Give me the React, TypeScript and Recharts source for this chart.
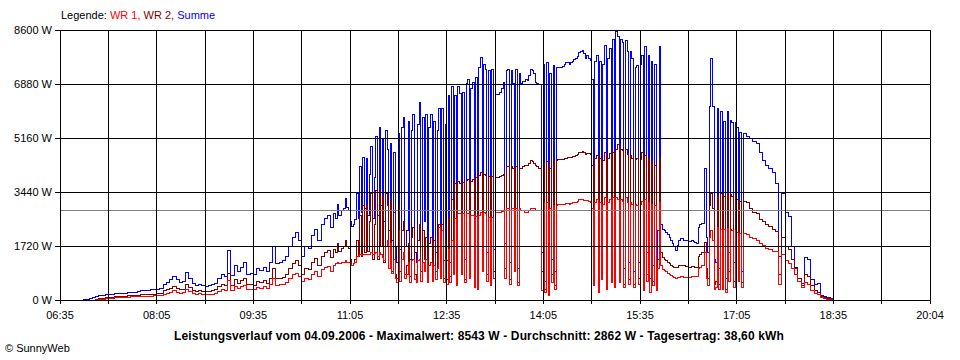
import { LineChart, Line, XAxis, YAxis, ReferenceLine } from "recharts";

// time axis in minutes of day; three sampling segments (3 min, 1.5 min, 3 min)
const segments = [
  { start: 410, step: 3, count: 80 }, // 06:50 - 10:47
  { start: 650, step: 1.5, count: 254 }, // 10:50 - 17:09.5
  { start: 1031, step: 3, count: 33 }, // 17:11 - 18:47
];

const xTicks = [395, 440, 485, 530, 575, 620, 665, 710, 755, 800, 845, 890, 935, 980, 1025, 1070, 1115, 1160, 1205];
const xTickLabels = ["06:35", "", "08:05", "", "09:35", "", "11:05", "", "12:35", "", "14:05", "", "15:35", "", "17:05", "", "18:35", "", "20:04"];
const yTicks = [0, 1720, 3440, 5160, 6880, 8600];
const average = 2862;

// Summe (W)
const summeMorning = [
  null, null, 10, 30, 50, 80, 110, 130, 150, 160, 180, 190, 200, 210, 210, 220, 230, 240, 250, 270,
  290, 300, 310, 320, 330, 340, 360, 480, 560, 640, 760, 640, 560, 600, 880, 700, 520, 470, 500, 450,
  430, 470, 490, 540, 700, 820, 760, 1580, 780, 1100, 900, 1050, 1180, 820, 850, 800, 1000, 950, 1050, 900,
  1200, 1700, 1150, 1200, 1250, 1400, 1700, 2000, 2150, 1900, 1400, 1700, 1650, 2050, 2250, 1900, 2400, 2600, 2700, 2300,
];
const summeMidday = [
  2750, 2600, 3050, 2700, 2700, 2850, 2900, 3220, 2950, 2850, 2500, 2330, 2400, 2550, 3400, 2600, 4240, 2800, 4550, 2900,
  4500, 2700, 4000, 4900, 2600, 3900, 5200, 2700, 5500, 3000, 5160, 2500, 5400, 4800, 2200, 5000, 1900, 4700, 1700, 1200,
  5300, 1600, 5500, 5800, 1700, 2200, 5700, 1300, 5400, 5900, 1500, 1200, 5600, 6300, 1700, 5800, 2500, 5900, 1400, 5500,
  5900, 1300, 5700, 1500, 5400, 6100, 1800, 6100, 1250, 5600, 1270, 6500, 1200, 6790, 2000, 6500, 900, 6800, 6590, 2000,
  6600, 1300, 6910, 7010, 1800, 6750, 6940, 1000, 7100, 900, 7400, 7710, 2200, 7500, 7330, 1500, 7300, 1100, 7330, 1600,
  6530, 6530, 6550, 6600, 6750, 6940, 1800, 7300, 7330, 1200, 7300, 6900, 2200, 7330, 1000, 7200, 6910, 6950, 6950, 7010,
  7000, 7150, 7330, 7300, 7200, 6940, 6900, 6850, 6850, 1500, 7500, 600, 7580, 400, 7200, 1300, 7480, 900, 7400, 7390,
  7400, 7420, 7450, 7500, 7550, 7550, 7500, 7580, 7600, 7650, 7700, 7750, 7870, 7900, 7960, 7850, 7700, 7800, 7700, 7640,
  7010, 1200, 7600, 7800, 700, 7600, 1500, 7500, 8100, 900, 7700, 8000, 1300, 8300, 1000, 8540, 8380, 1300, 8300, 8200,
  1000, 8280, 7900, 1200, 7900, 7700, 900, 7420, 7480, 1200, 7500, 7800, 800, 8060, 1500, 7800, 700, 7600, 1100, 7500,
  1000, 2200, 8090, 2400, 2230, 2200, 2150, 2100, 2000, 1900, 1800, 1700, 1590, 1750, 1900, 1950, 1950, 1900, 1900, 1880,
  1850, 1850, 1880, 1870, 1820, 1800, 2300, 2400, 2450, 2450, 4200, 2000, 1500, 6150, 7700, 6150, 1300, 1200, 6100, 1000,
  6000, 900, 5700, 700, 6000, 1500, 5730, 5640, 1200, 5640, 5500, 1500, 5320, 900,
];
const summeEvening = [
  5300, 5200, 5150, 5050, 5000, 4700, 4450, 4300, 4200, 4050, 3700, 1400, 3400, 2800, 2650, 1690, 1050, 700, 540, 1340,
  1300, 650, 480, 540, 150, 100, 80, 50, 0, null, null, null, null,
];

// WR 2 (W)
const wr2Morning = [
  null, null, null, null, null, null, 20, 40, 60, 70, 80, 90, 100, 110, 110, 120, 130, 130, 140, 150,
  160, 170, 180, 180, 190, 200, 210, 290, 330, 380, 440, 380, 330, 350, 500, 400, 300, 280, 300, 270,
  260, 280, 300, 320, 420, 480, 450, 850, 460, 640, 530, 620, 700, 480, 500, 470, 590, 560, 620, 530,
  700, 1000, 680, 700, 730, 820, 1000, 1170, 1260, 1110, 820, 1000, 970, 1200, 1320, 1110, 1400, 1520, 1580, 1350,
];
const wr2Midday = [
  1600, 1500, 1800, 1550, 1550, 1650, 1700, 1900, 1700, 1650, 1300, 1100, 1150, 1300, 1900, 1400, 2700, 1400, 3000, 1500,
  3000, 1550, 2500, 3400, 1300, 2400, 3500, 1300, 3500, 1700, 3300, 1200, 3400, 3000, 1000, 3200, 900, 2800, 800, 700,
  3000, 900, 2200, 2500, 800, 1100, 1800, 750, 2000, 2300, 800, 700, 1900, 2400, 900, 2200, 1300, 2000, 750, 1800,
  2000, 800, 1900, 900, 1800, 2400, 1000, 2400, 700, 1900, 650, 2600, 750, 3200, 1100, 3700, 500, 3760, 3700, 1100,
  3750, 650, 3800, 3850, 1000, 3760, 3850, 550, 3900, 450, 3950, 4050, 1200, 4000, 3950, 800, 3920, 600, 3920, 900,
  3900, 3900, 3900, 3920, 3950, 4000, 1000, 4240, 4250, 650, 4250, 4200, 1200, 4250, 550, 4200, 4200, 4250, 4300, 4300,
  4300, 4350, 4450, 4400, 4350, 4300, 4250, 4200, 4200, 900, 4350, 350, 4400, 250, 4200, 800, 4400, 450, 4450, 4460,
  4460, 4470, 4480, 4500, 4520, 4550, 4540, 4550, 4560, 4570, 4600, 4650, 4700, 4710, 4720, 4700, 4650, 4680, 4660, 4620,
  4300, 600, 4500, 4600, 350, 4500, 800, 4450, 4700, 450, 4500, 4680, 700, 4700, 550, 4800, 4940, 700, 4800, 4750,
  500, 4800, 4650, 650, 4600, 4500, 500, 4460, 4500, 700, 4460, 4700, 350, 4600, 800, 4500, 250, 4400, 600, 4300,
  400, 1300, 4500, 1500, 1340, 1300, 1250, 1200, 1150, 1100, 1080, 1050, 1020, 1050, 1100, 1100, 1100, 1090, 1080, 1060,
  1050, 1050, 1080, 1080, 1050, 1050, 1400, 1450, 1500, 1500, 1820, 1000, 700, 3000, 3400, 2900, 500, 600, 3300, 500,
  3400, 500, 3300, 350, 3400, 900, 3350, 3300, 600, 3350, 3200, 800, 3150, 550,
];
const wr2Evening = [
  3150, 3100, 2900, 2800, 2750, 2550, 2500, 2400, 2350, 2250, 2170, 800, 2000, 1700, 1600, 1300, 1000, 700, 450, 800,
  750, 450, 300, 250, 120, 80, 50, 30, 0, null, null, null, null,
];

// WR 1 (W)
const wr1Morning = [
  null, null, null, null, null, null, 10, 20, 30, 40, 50, 60, 70, 80, 80, 90, 90, 100, 100, 110,
  110, 110, 120, 120, 130, 130, 140, 190, 220, 250, 300, 250, 220, 240, 350, 280, 210, 190, 200, 180,
  170, 190, 190, 220, 280, 330, 300, 620, 310, 440, 360, 420, 470, 330, 340, 320, 400, 380, 420, 360,
  480, 680, 460, 480, 500, 560, 680, 800, 860, 760, 600, 680, 660, 820, 900, 760, 960, 1040, 1080, 920,
];
const wr1Midday = [
  1100, 1150, 1200, 1150, 1150, 1200, 1200, 1250, 1200, 1200, 1150, 1110, 1150, 1200, 1400, 1430, 1450, 1430, 1450, 1450,
  1450, 1450, 1450, 1500, 1450, 1480, 1500, 1400, 1500, 1450, 1350, 1270, 1700, 1900, 1000, 1800, 860, 1300, 700, 550,
  2200, 600, 1300, 1500, 700, 800, 1200, 550, 1250, 1300, 650, 550, 1250, 1300, 600, 1200, 900, 1300, 550, 1100,
  1200, 600, 1100, 650, 1000, 2300, 700, 2200, 550, 1300, 500, 1600, 550, 1900, 800, 2600, 450, 2770, 2750, 800,
  2750, 550, 2770, 2770, 700, 2700, 2700, 400, 2650, 350, 2700, 2800, 900, 2800, 2750, 600, 2640, 450, 2640, 700,
  2800, 2800, 2800, 2800, 2820, 2850, 700, 2930, 2930, 500, 2900, 2900, 900, 2930, 450, 2900, 2850, 2850, 2800, 2800,
  2800, 2850, 2900, 2900, 2900, 2850, 2850, 2850, 2850, 300, 3100, 250, 3100, 150, 2900, 550, 3000, 350, 3000, 3030,
  3030, 3040, 3050, 3050, 3060, 3060, 3050, 3080, 3100, 3100, 3120, 3150, 3190, 3200, 3190, 3180, 3170, 3180, 3150, 3120,
  2900, 450, 3100, 3200, 250, 3100, 650, 3050, 3250, 350, 3100, 3200, 550, 3250, 400, 3250, 3200, 550, 3200, 3150,
  400, 3250, 3100, 500, 3100, 3050, 400, 3030, 3000, 500, 3050, 3150, 300, 3190, 600, 3100, 250, 3050, 450, 3000,
  300, 1000, 3100, 1100, 960, 950, 900, 860, 820, 780, 740, 720, 700, 720, 730, 740, 740, 730, 730, 720,
  730, 730, 750, 750, 740, 740, 1000, 1050, 1100, 1100, 1500, 700, 450, 2000, 2200, 1900, 350, 400, 2300, 350,
  2250, 350, 2250, 250, 2290, 600, 2230, 2200, 400, 2200, 2150, 600, 2130, 400,
];
const wr1Evening = [
  2130, 2100, 2000, 1950, 1900, 1800, 1750, 1650, 1600, 1550, 1530, 500, 1450, 1250, 1150, 1000, 800, 600, 400, 550,
  500, 300, 200, 180, 80, 50, 30, 10, 0, null, null, null, null,
];

const summe = [...summeMorning, ...summeMidday, ...summeEvening];
const wr2 = [...wr2Morning, ...wr2Midday, ...wr2Evening];
const wr1 = [...wr1Morning, ...wr1Midday, ...wr1Evening];

const times: number[] = [];
segments.forEach((s) => {
  for (let i = 0; i < s.count; i++) times.push(s.start + i * s.step);
});

const data = times.map((t, i) => ({ t, summe: summe[i], wr2: wr2[i], wr1: wr1[i] }));

const FONT = '"Liberation Sans", Arial, sans-serif';

export default function App() {
  return (
    <div
      style={{
        position: "absolute",
        left: 0,
        top: 0,
        width: 960,
        height: 360,
        background: "#fff",
        fontFamily: FONT,
        shapeRendering: "crispEdges",
      }}
    >
      <LineChart width={960} height={360} data={data} margin={{ top: 30, right: 30, bottom: 40, left: 8 }}>
        <XAxis
          type="number"
          dataKey="t"
          domain={[395, 1205]}
          ticks={xTicks}
          interval={0}
          tickFormatter={(v) => xTickLabels[xTicks.indexOf(v)]}
          stroke="#000"
          tick={{ fill: "#000", fontSize: 11, fontFamily: FONT }}
          tickSize={4}
          tickMargin={7}
          height={20}
        />
        <YAxis
          domain={[0, 8600]}
          ticks={yTicks}
          interval={0}
          tickFormatter={(v) => `${v} W`}
          stroke="#000"
          tick={{ fill: "#000", fontSize: 11, fontFamily: FONT }}
          tickSize={5}
          tickMargin={3}
          width={52}
        />
        <Line type="stepAfter" dataKey="summe" stroke="#0000ff" strokeWidth={1} dot={false} isAnimationActive={false} />
        <Line type="stepAfter" dataKey="wr2" stroke="#800000" strokeWidth={1} dot={false} isAnimationActive={false} />
        <Line type="stepAfter" dataKey="wr1" stroke="#ff0000" strokeWidth={1} dot={false} isAnimationActive={false} />
        <ReferenceLine y={average} stroke="#808080" strokeWidth={1} />
        {xTicks.slice(1).map((x) => (
          <ReferenceLine key={"x" + x} x={x} stroke="#000" strokeWidth={1} />
        ))}
        {yTicks.slice(1).map((y) => (
          <ReferenceLine key={"y" + y} y={y} stroke="#000" strokeWidth={1} />
        ))}
      </LineChart>
      <div style={{ position: "absolute", left: 61, top: 9, fontSize: 11, whiteSpace: "nowrap" }}>
        <span style={{ color: "#000" }}>Legende: </span>
        <span style={{ color: "#ff0000" }}>WR 1, </span>
        <span style={{ color: "#800000" }}>WR 2, </span>
        <span style={{ color: "#0000ff" }}>Summe</span>
      </div>
      <div
        style={{
          position: "absolute",
          left: 0,
          top: 329,
          width: 958,
          textAlign: "center",
          fontSize: 12,
          fontWeight: "bold",
          letterSpacing: 0.13,
          whiteSpace: "nowrap",
        }}
      >
        Leistungsverlauf vom 04.09.2006 - Maximalwert: 8543 W - Durchschnitt: 2862 W - Tagesertrag: 38,60 kWh
      </div>
      <div style={{ position: "absolute", left: 5, top: 342, fontSize: 11, whiteSpace: "nowrap" }}>© SunnyWeb</div>
    </div>
  );
}
